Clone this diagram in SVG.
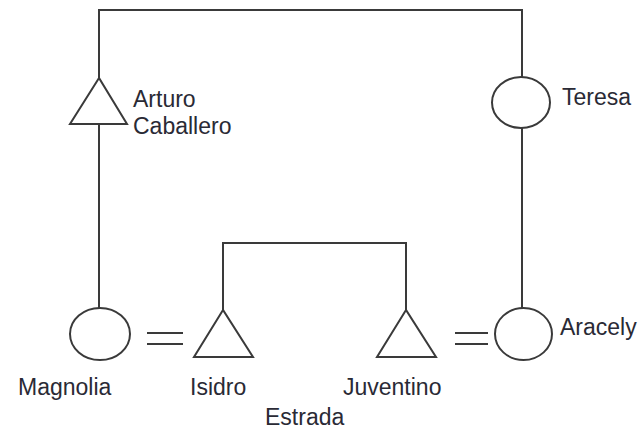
<svg xmlns="http://www.w3.org/2000/svg" width="644" height="432" viewBox="0 0 644 432">
<style>
.s{fill:#fff;stroke:#3a3a3a;stroke-width:2}
.c{fill:none;stroke:#3a3a3a;stroke-width:2}
text{font-family:"Liberation Sans",Arial,sans-serif;font-size:23px;fill:#2a2a35}
</style>
<rect width="644" height="432" fill="#fff"/>
<g id="connectors">
<polyline class="c" points="99,78 99,10 522,10 522,77"/>
<line class="c" x1="99" y1="124" x2="99" y2="308"/>
<line class="c" x1="522" y1="128" x2="522" y2="308"/>
<polyline class="c" points="223,310 223,243 406,243 406,310"/>
<line class="c" x1="147" y1="333" x2="183" y2="333"/>
<line class="c" x1="147" y1="344" x2="183" y2="344"/>
<line class="c" x1="455" y1="333" x2="488" y2="333"/>
<line class="c" x1="455" y1="344" x2="488" y2="344"/>
</g>
<g id="arturo">
<polygon class="s" points="99,78 70,124 127,124"/>
<text x="133" y="107">Arturo</text>
<text x="133" y="134">Caballero</text>
</g>
<g id="teresa">
<ellipse class="s" cx="521" cy="102.5" rx="29" ry="25.5"/>
<text x="562" y="105">Teresa</text>
</g>
<g id="magnolia">
<ellipse class="s" cx="100" cy="334" rx="30" ry="26"/>
<text x="18" y="395">Magnolia</text>
</g>
<g id="isidro">
<polygon class="s" points="223,310 194,357 253,357"/>
<text x="190" y="395">Isidro</text>
<text x="265" y="425">Estrada</text>
</g>
<g id="juventino">
<polygon class="s" points="406,310 377,357 436,357"/>
<text x="343" y="395">Juventino</text>
</g>
<g id="aracely">
<ellipse class="s" cx="523.5" cy="334" rx="28.5" ry="26"/>
<text x="560" y="335">Aracely</text>
</g>
</svg>
